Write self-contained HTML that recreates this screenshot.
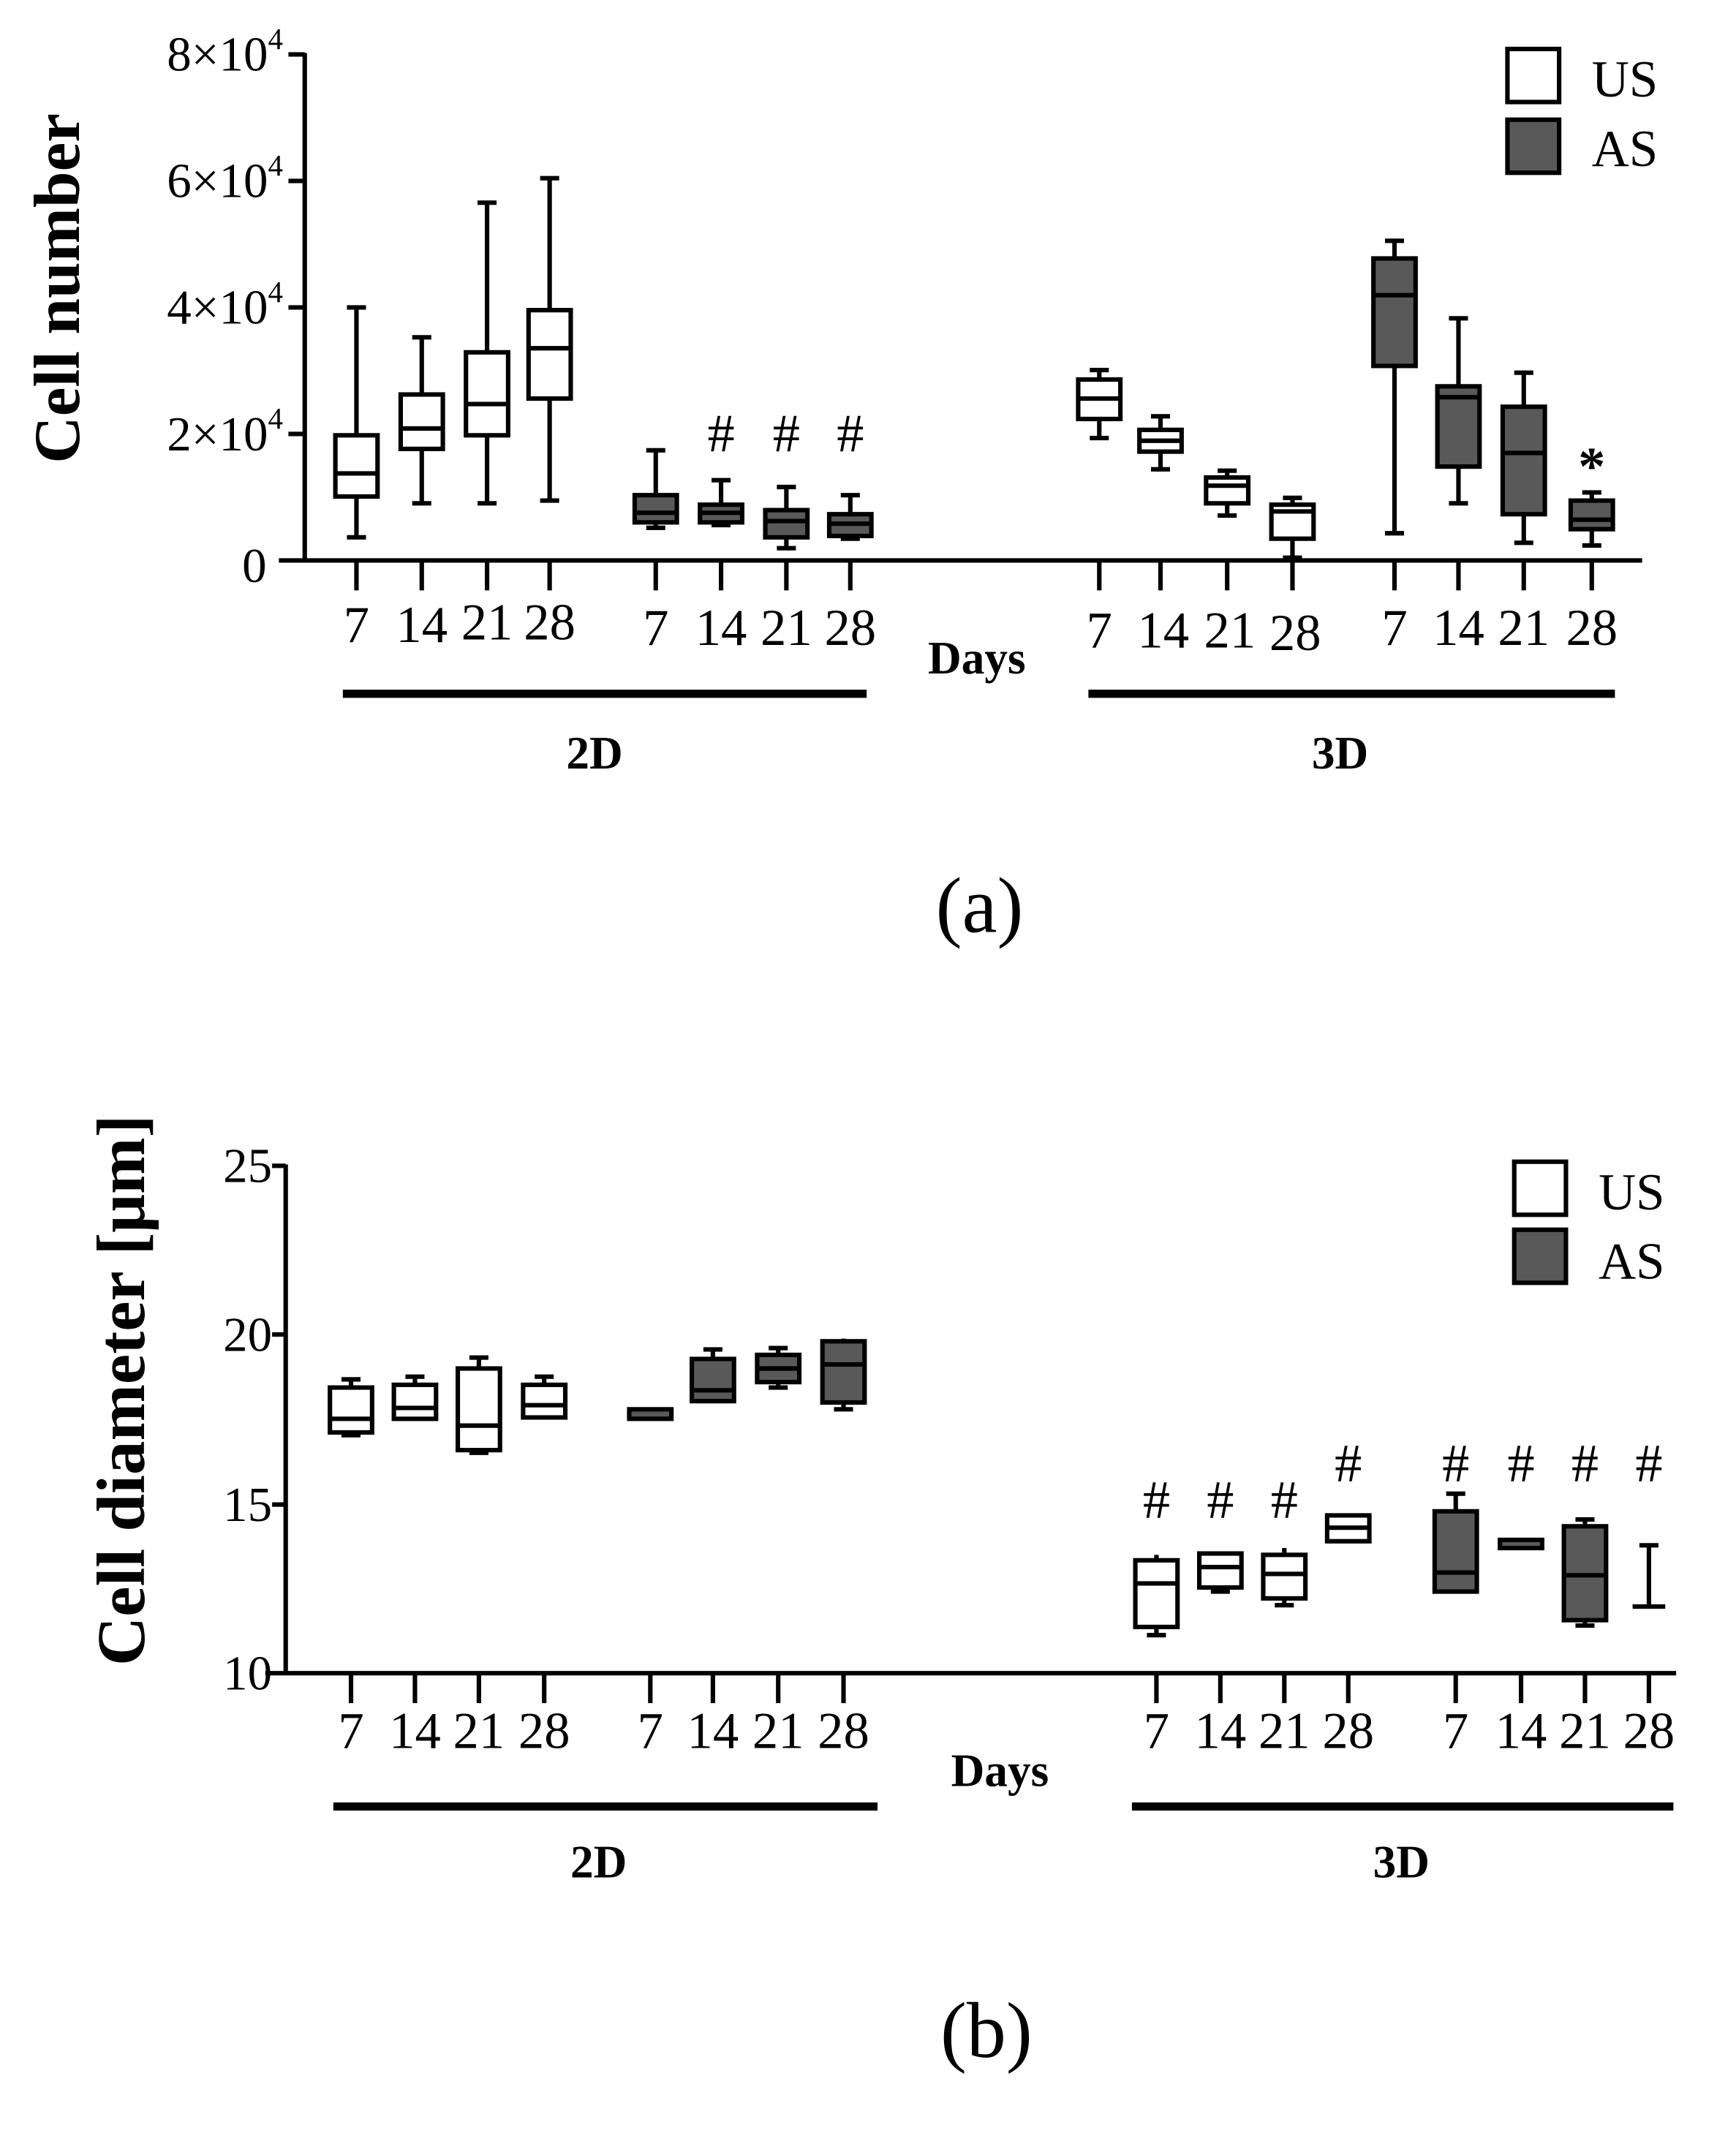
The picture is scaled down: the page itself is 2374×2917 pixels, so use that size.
<!DOCTYPE html>
<html><head><meta charset="utf-8"><style>html,body{margin:0;padding:0;background:#fff;}svg{display:block}</style></head><body>
<svg width="2374" height="2917" viewBox="0 0 1276 1568" preserveAspectRatio="none" xmlns="http://www.w3.org/2000/svg" font-family="'Liberation Serif', serif">
<rect width="1276" height="1568" fill="#fff"/>
<g stroke="#000" stroke-width="3.3" fill="none">
<line x1="224" y1="39" x2="224" y2="412"/>
<line x1="205" y1="412" x2="1207" y2="412"/>
<line x1="212" y1="40" x2="224" y2="40"/><line x1="212" y1="133" x2="224" y2="133"/><line x1="212" y1="226" x2="224" y2="226"/><line x1="212" y1="319" x2="224" y2="319"/>
</g>
<g font-size="36" fill="#000">
<text x="208" y="52" text-anchor="end">8×10<tspan font-size="22" dy="-16">4</tspan></text>
<text x="208" y="145" text-anchor="end">6×10<tspan font-size="22" dy="-16">4</tspan></text>
<text x="208" y="238" text-anchor="end">4×10<tspan font-size="22" dy="-16">4</tspan></text>
<text x="208" y="331" text-anchor="end">2×10<tspan font-size="22" dy="-16">4</tspan></text>
<text x="196" y="428" text-anchor="end">0</text>
</g>
<text transform="translate(58,212) rotate(-90)" text-anchor="middle" font-size="48" font-weight="bold">Cell number</text>

<g stroke="#000" stroke-width="3.3">
<path d="M262 412v22M310 412v22M358 412v22M404 412v22M482 412v22M530 412v22M578 412v22M625 412v22M808 412v22M853 412v22M902 412v22M950 412v22M1025 412v22M1072 412v22M1120 412v22M1170 412v22"/>
<path d="M262 226V395M255 226h14M255 395h14
M310 248V370M303 248h14M303 370h14
M358 149V370M351 149h14M351 370h14
M404 131V368M397 131h14M397 368h14
M482 331V388M475 331h14M475 388h14
M530 353V386M523 353h14M523 386h14
M578 358V403M571 358h14M571 403h14
M625 364V396M618 364h14M618 396h14
M808 272V322M801 272h14M801 322h14
M853 306V345M846 306h14M846 345h14
M902 346V379M895 346h14M895 379h14
M950 366V410M943 366h14M943 410h14
M1025 177V392M1018 177h14M1018 392h14
M1072 234V370M1065 234h14M1065 370h14
M1120 274V399M1113 274h14M1113 399h14
M1170 362V401M1163 362h14M1163 401h14"/>
<rect x="246.5" y="320" width="31" height="45" fill="#fff"/><line x1="246.5" y1="348" x2="277.5" y2="348"/>
<rect x="294.5" y="290" width="31" height="40" fill="#fff"/><line x1="294.5" y1="315" x2="325.5" y2="315"/>
<rect x="342.5" y="259" width="31" height="61" fill="#fff"/><line x1="342.5" y1="297" x2="373.5" y2="297"/>
<rect x="388.5" y="228" width="31" height="65" fill="#fff"/><line x1="388.5" y1="256" x2="419.5" y2="256"/>
<rect x="466.5" y="364" width="31" height="20" fill="#595959"/><line x1="466.5" y1="377" x2="497.5" y2="377"/>
<rect x="514.5" y="371" width="31" height="13" fill="#595959"/><line x1="514.5" y1="377" x2="545.5" y2="377"/>
<rect x="562.5" y="375" width="31" height="20" fill="#595959"/><line x1="562.5" y1="383" x2="593.5" y2="383"/>
<rect x="609.5" y="378" width="31" height="16" fill="#595959"/><line x1="609.5" y1="385" x2="640.5" y2="385"/>
<rect x="792.5" y="279" width="31" height="29" fill="#fff"/><line x1="792.5" y1="293" x2="823.5" y2="293"/>
<rect x="837.5" y="316" width="31" height="16" fill="#fff"/><line x1="837.5" y1="324" x2="868.5" y2="324"/>
<rect x="886.5" y="351" width="31" height="19" fill="#fff"/><line x1="886.5" y1="357" x2="917.5" y2="357"/>
<rect x="934.5" y="371" width="31" height="25" fill="#fff"/><line x1="934.5" y1="376" x2="965.5" y2="376"/>
<rect x="1009.5" y="190" width="31" height="79" fill="#595959"/><line x1="1009.5" y1="217" x2="1040.5" y2="217"/>
<rect x="1056.5" y="284" width="31" height="59" fill="#595959"/><line x1="1056.5" y1="292" x2="1087.5" y2="292"/>
<rect x="1104.5" y="299" width="31" height="79" fill="#595959"/><line x1="1104.5" y1="333" x2="1135.5" y2="333"/>
<rect x="1154.5" y="368" width="31" height="21" fill="#595959"/><line x1="1154.5" y1="382" x2="1185.5" y2="382"/>
</g>

<g font-size="38" text-anchor="middle">
<text x="262" y="472">7</text><text x="310" y="472">14</text><text x="358" y="470">21</text><text x="404" y="470">28</text>
<text x="482" y="474">7</text><text x="530" y="474">14</text><text x="578" y="474">21</text><text x="625" y="474">28</text>
<text x="808" y="476">7</text><text x="855" y="476">14</text><text x="904" y="476">21</text><text x="952" y="478">28</text>
<text x="1025" y="474">7</text><text x="1072" y="474">14</text><text x="1120" y="474">21</text><text x="1170" y="474">28</text>
<text x="530" y="332" font-size="40">#</text><text x="578" y="332" font-size="40">#</text><text x="625" y="332" font-size="40">#</text>
<text x="1170" y="356" font-size="40" font-weight="bold">*</text>
</g>
<text x="718" y="495" text-anchor="middle" font-size="34" font-weight="bold">Days</text>
<rect x="252" y="507" width="385" height="6"/><rect x="800" y="507" width="387" height="6"/>
<text x="437" y="565" text-anchor="middle" font-size="34" font-weight="bold">2D</text>
<text x="985" y="565" text-anchor="middle" font-size="34" font-weight="bold">3D</text>
<text x="720" y="685" text-anchor="middle" font-size="58">(a)</text>
<rect x="1108" y="36" width="38" height="39" fill="#fff" stroke="#000" stroke-width="3.3"/>
<rect x="1108" y="88" width="38" height="39" fill="#595959" stroke="#000" stroke-width="3.3"/>
<text x="1170" y="71" font-size="38">US</text><text x="1170" y="122" font-size="38">AS</text>

<g stroke="#000" stroke-width="3.3" fill="none">
<line x1="210" y1="856" x2="210" y2="1231"/>
<line x1="195" y1="1230" x2="1232" y2="1230"/>
<line x1="200" y1="857" x2="210" y2="857"/><line x1="200" y1="981" x2="210" y2="981"/><line x1="200" y1="1106" x2="210" y2="1106"/>
</g>
<g font-size="36" text-anchor="end">
<text x="200" y="869">25</text><text x="200" y="993">20</text><text x="200" y="1118">15</text><text x="200" y="1242">10</text>
</g>
<text transform="translate(106,1022) rotate(-90)" text-anchor="middle" font-size="50" font-weight="bold">Cell diameter [μm]</text>

<g stroke="#000" stroke-width="3.3">
<path d="M258 1230v22M305 1230v22M352 1230v22M400 1230v22M478 1230v22M524 1230v22M572 1230v22M620 1230v22M850 1230v22M897 1230v22M944 1230v22M991 1230v22M1070 1230v22M1118 1230v22M1165 1230v22M1212 1230v22"/>
<path d="M258 1014V1055M251 1014h14M251 1055h14
M305 1012V1043M298 1012h14
M352 998V1068M345 998h14M345 1068h14
M400 1012V1043M393 1012h14
M524 992V1031M517 992h14
M572 991V1020M565 991h14M565 1020h14
M620 984V1036M613 1036h14
M850 1143V1202M843 1202h14
M897 1141V1170M890 1170h14
M944 1138V1180M937 1180h14
M1070 1098V1171M1063 1098h14
M1165 1117V1195M1158 1117h14M1158 1195h14
M1212 1136V1181M1205 1136h14M1200 1181h24"/>
<rect x="242.5" y="1020" width="31" height="33" fill="#fff"/><line x1="242.5" y1="1043" x2="273.5" y2="1043"/>
<rect x="289.5" y="1018" width="31" height="25" fill="#fff"/><line x1="289.5" y1="1035" x2="320.5" y2="1035"/>
<rect x="336.5" y="1006" width="31" height="60" fill="#fff"/><line x1="336.5" y1="1048" x2="367.5" y2="1048"/>
<rect x="384.5" y="1018" width="31" height="24" fill="#fff"/><line x1="384.5" y1="1033" x2="415.5" y2="1033"/>
<rect x="462.5" y="1036" width="31" height="7" fill="#595959"/>
<rect x="508.5" y="999" width="31" height="31" fill="#595959"/><line x1="508.5" y1="1022" x2="539.5" y2="1022"/>
<rect x="556.5" y="996" width="31" height="20" fill="#595959"/><line x1="556.5" y1="1006" x2="587.5" y2="1006"/>
<rect x="604.5" y="986" width="31" height="45" fill="#595959"/><line x1="604.5" y1="1003" x2="635.5" y2="1003"/>
<rect x="834.5" y="1147" width="31" height="49" fill="#fff"/><line x1="834.5" y1="1164" x2="865.5" y2="1164"/>
<rect x="881.5" y="1142" width="31" height="25" fill="#fff"/><line x1="881.5" y1="1152" x2="912.5" y2="1152"/>
<rect x="928.5" y="1143" width="31" height="32" fill="#fff"/><line x1="928.5" y1="1157" x2="959.5" y2="1157"/>
<rect x="975.5" y="1114" width="31" height="19" fill="#fff"/><line x1="975.5" y1="1123" x2="1006.5" y2="1123"/>
<rect x="1054.5" y="1111" width="31" height="59" fill="#595959"/><line x1="1054.5" y1="1156" x2="1085.5" y2="1156"/>
<rect x="1102.5" y="1132" width="31" height="6" fill="#595959"/>
<rect x="1149.5" y="1122" width="31" height="69" fill="#595959"/><line x1="1149.5" y1="1158" x2="1180.5" y2="1158"/>
</g>
<g font-size="38" text-anchor="middle">
<text x="258" y="1285">7</text><text x="305" y="1285">14</text><text x="352" y="1285">21</text><text x="400" y="1285">28</text>
<text x="478" y="1285">7</text><text x="524" y="1285">14</text><text x="572" y="1285">21</text><text x="620" y="1285">28</text>
<text x="850" y="1285">7</text><text x="897" y="1285">14</text><text x="944" y="1285">21</text><text x="991" y="1285">28</text>
<text x="1070" y="1285">7</text><text x="1118" y="1285">14</text><text x="1165" y="1285">21</text><text x="1212" y="1285">28</text>
<text x="850" y="1116" font-size="40">#</text><text x="897" y="1116" font-size="40">#</text><text x="944" y="1116" font-size="40">#</text>
<text x="991" y="1089" font-size="40">#</text><text x="1070" y="1089" font-size="40">#</text><text x="1118" y="1089" font-size="40">#</text><text x="1165" y="1089" font-size="40">#</text><text x="1212" y="1089" font-size="40">#</text>
</g>
<text x="735" y="1313" text-anchor="middle" font-size="34" font-weight="bold">Days</text>
<rect x="245" y="1325" width="400" height="6"/><rect x="832" y="1325" width="398" height="6"/>
<text x="440" y="1380" text-anchor="middle" font-size="34" font-weight="bold">2D</text>
<text x="1030" y="1380" text-anchor="middle" font-size="34" font-weight="bold">3D</text>
<text x="725" y="1512" text-anchor="middle" font-size="58">(b)</text>
<rect x="1113" y="854" width="38" height="39" fill="#fff" stroke="#000" stroke-width="3.3"/>
<rect x="1113" y="904" width="38" height="39" fill="#595959" stroke="#000" stroke-width="3.3"/>
<text x="1175" y="889" font-size="38">US</text><text x="1175" y="940" font-size="38">AS</text>
</svg>
</body></html>
